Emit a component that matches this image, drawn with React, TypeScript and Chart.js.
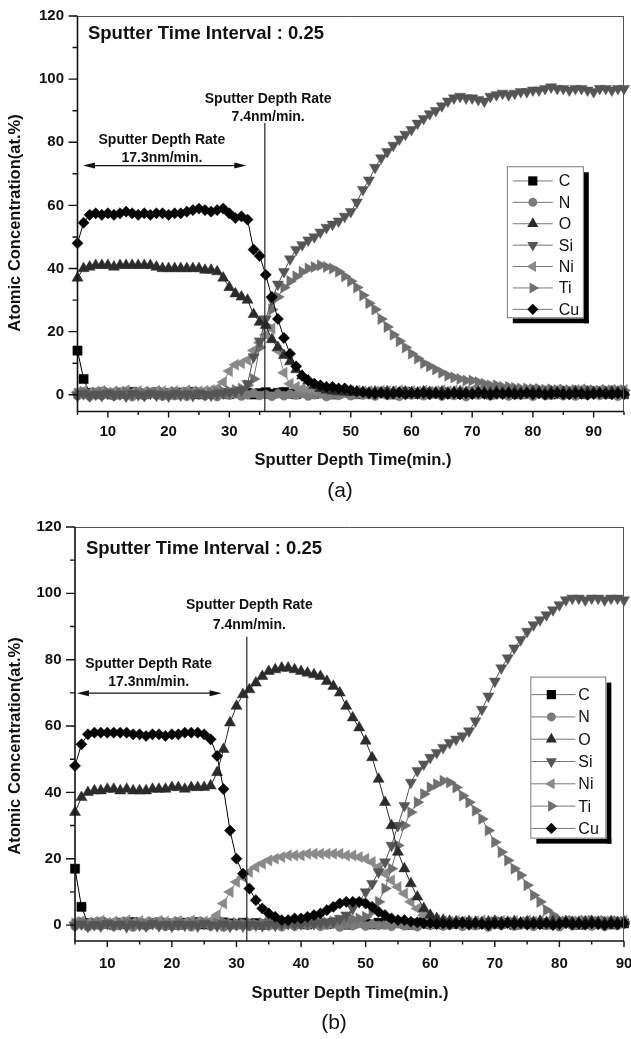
import React, { useEffect, useRef } from 'react';
import { Chart, registerables } from 'chart.js';

Chart.register(...registerables);

// ---------- shared ----------
const ELEMENTS = ['C', 'N', 'O', 'Si', 'Ni', 'Ti', 'Cu'];
const Y_LABEL_TICKS = [0, 20, 40, 60, 80, 100, 120];
const Y_MINOR_TICKS = [10, 30, 50, 70, 90, 110];
const X_LABEL_TICKS = [10, 20, 30, 40, 50, 60, 70, 80, 90];
const X_MINOR_TICKS_A = [5, 15, 25, 35, 45, 55, 65, 75, 85, 95];
const X_MINOR_TICKS_B = [5, 15, 25, 35, 45, 55, 65, 75, 85];
const Y_TITLE = 'Atomic Concentration(at.%)';
const X_TITLE = 'Sputter Depth Time(min.)';
const INTERVAL_TEXT = 'Sputter Time Interval : 0.25';
const RATE_FAST = ['Sputter Depth Rate', '17.3nm/min.'];
const RATE_SLOW = ['Sputter Depth Rate', '7.4nm/min.'];

// ---------- chart (a) ----------
const TIME_A = [5, 6, 7, 8, 9, 10, 11, 12, 13, 14, 15, 16, 17, 18, 19, 20, 21, 22, 23, 24, 25, 26, 27, 28, 29, 30, 31, 32, 33, 34, 35, 36, 37, 38, 39, 40, 41, 42, 43, 44, 45, 46, 47, 48, 49, 50, 51, 52, 53, 54, 55, 56, 57, 58, 59, 60, 61, 62, 63, 64, 65, 66, 67, 68, 69, 70, 71, 72, 73, 74, 75, 76, 77, 78, 79, 80, 81, 82, 83, 84, 85, 86, 87, 88, 89, 90, 91, 92, 93, 94, 95];

const C_A = [14, 5, 0.6, 0.2, 0.8, 0.4, 0.1, 0.7, 0.3, 0.9, 0.5, 0.2, 0.6, 0.8, 0.3, 0.5, 0.1, 0.7, 0.4, 0.9, 0.2, 0.6, 0.3, 0.8, 0.5, 0.2, 0.7, 0.4, 0.6, 0.1,
  0.5, 0.8, 0.3, 0.6, 0.9, 0.4, 0.2, 0.7, 0.5, 0.3, 0.8, 0.6, 0.1, 0.4, 0.9, 0.5, 0.2, 0.7, 0.3, 0.6, 0.8, 0.4, 0.1, 0.5, 0.9, 0.3, 0.6, 0.2, 0.7, 0.4,
  0.8, 0.5, 0.2, 0.6, 0.3, 0.9, 0.4, 0.7, 0.1, 0.5, 0.8, 0.3, 0.6, 0.2, 0.9, 0.4, 0.7, 0.5, 0.1, 0.6, 0.3, 0.8, 0.4, 0.2, 0.7, 0.5, 0.9, 0.3, 0.6, 0.4, 0.2];

const N_A = [-0.3, 0.2, -0.5, 0.1, -0.2, 0.4, -0.4, 0.0, 0.3, -0.6,
  0.1, -0.3, 0.5, -0.1, -0.4, 0.2, -0.2, 0.3, -0.5, 0.0,
  0.4, -0.3, 0.1, -0.6, 0.2, -0.1, 0.3, -0.4, 0.0, 0.5,
  -0.2, 0.1, -0.5, 0.3, -0.3, 0.2, -0.1, 0.4, -0.4, 0.0,
  0.3, -0.6, 0.1, -0.2, 0.5, -0.3, 0.2, -0.1, 0.0, -0.4,
  0.4, -0.2, 0.1, -0.5, 0.3, -0.1, 0.2, -0.3, 0.0, 0.4,
  -0.4, 0.1, -0.2, 0.3, -0.6, 0.2, -0.1, 0.5, -0.3, 0.0,
  0.2, -0.4, 0.3, -0.1, 0.1, -0.5, 0.4, -0.2, 0.0, 0.3,
  -0.3, 0.1, -0.4, 0.2, -0.1, 0.5, -0.2, 0.0, 0.3, -0.5,
  0.1];

const O_A = [37, 40, 40.5, 41, 41, 41, 40.5, 41, 41, 41, 41, 41, 41, 40.5, 40, 40, 40, 40, 40, 40, 40, 39.5, 39.5, 39, 37, 34, 32, 31, 30, 25.5, 23, 22, 17.5, 15, 12.5, 10.5, 8, 6, 4.5, 3, 2, 1.5, 1.2, 1,
  0.9, 0.7, 1.0, 0.8, 0.6, 0.9, 0.7, 1.0, 0.8, 0.5, 0.9, 0.7, 0.6, 1.0, 0.8, 0.7, 0.9, 0.6, 0.8, 1.0,
  0.7, 0.5, 0.9, 0.8, 0.6, 1.0, 0.7, 0.8, 0.9, 0.6, 0.7, 1.0, 0.8, 0.5, 0.9, 0.7, 0.8, 0.6, 1.0, 0.7,
  0.9, 0.8, 0.6, 0.7, 0.9, 0.8, 0.7];

const SI_A = [-0.2, 0.3, -0.4, 0.1, -0.3, 0.4, -0.1, 0.2, -0.5, 0.3, 0, -0.3, 0.4, -0.2, 0.1, -0.4, 0.3, -0.1, 0.2, -0.3, 0.4, 0, -0.2, 0.3, 0.5, 0.8, 1.0, 1.5,
  3.5, 12, 17, 24, 30, 35, 39, 43, 46, 47.5, 49, 50, 51.5, 53, 54, 55, 56.5, 58, 61, 65, 68, 72, 75, 77, 79, 81, 82.5, 84, 86, 87.5,
  89, 90, 91.5, 93, 94, 94.5, 94, 94, 93.5, 93, 94.5, 95, 95.5, 95, 95.5, 96, 96, 96.5, 96.5, 97, 97.5, 97, 97, 96.5, 97, 97, 96.5, 96, 97, 97, 96.5, 97, 97];

const NI_A = [0.8, 1.2, 0.6, 1.0, 1.3, 0.7, 1.1, 0.9, 1.4, 0.8, 1.2, 1.0, 0.7, 1.3, 1.1, 0.9, 1.2, 0.8, 1.4, 1.0, 1.1, 1.3, 1.5,
  2, 4, 7.5, 9.5, 10, 11, 14, 16.5, 19, 21, 14, 7, 3.5,
  2.5, 2, 1.8, 1.5, 1.6, 1.4, 1.5, 1.3, 1.4, 1.2, 1.3, 1.1, 1.2, 1.0, 1.3, 1.1, 1.2, 1.4, 1.0, 1.2, 1.1, 1.3, 1.0, 1.2, 1.4,
  1.1, 1.3, 1.0, 1.2, 1.5, 1.3, 1.1, 1.4, 1.2, 1.6, 1.3, 1.5, 1.2, 1.4, 1.7, 1.3, 1.5, 1.2, 1.6, 1.4, 1.3, 1.5, 1.7, 1.4, 1.2, 1.5, 1.3, 1.6, 1.4, 1.5];

const TI_A = [0.5, 0.9, 0.3, 0.7, 0.4, 0.8, 0.2, 0.6, 0.9, 0.4, 0.7, 0.3, 0.8, 0.5, 0.6, 0.2, 0.9, 0.4, 0.7, 0.5, 0.8, 0.3, 0.6, 0.9, 1.0, 1.2, 1.5, 2.0, 3.0,
  5, 15, 22, 27, 31, 34, 36, 37.5, 39, 40, 40.5, 41, 40.5, 40, 39, 37.5, 36, 34, 31.5, 29, 27, 24, 21.5, 19, 17, 15, 13, 11.5, 10, 9,
  8, 7, 6, 5.5, 5, 4.5, 4.5, 4, 3.5, 3, 3, 2.5, 2.5, 2.2, 2, 2, 1.8, 1.8, 1.6, 1.7, 1.5, 1.6, 1.4, 1.5, 1.3, 1.5, 1.4, 1.3, 1.5, 1.4, 1.3, 1.4];

const CU_A = [48, 54.5, 57, 57.5, 57, 57.5, 57, 57.5, 58, 57.5, 57, 57.5, 57, 57.5, 57.5, 57, 57.5, 57.5, 58, 58.5, 59, 58.5, 58, 58.5, 59, 57.5, 56, 56.5, 55.5,
  46, 44, 38, 31, 24, 18, 13, 9, 6, 4.5, 3.5, 3, 2.5, 2.5, 2, 2, 1.5, 1,
  0.8, 0.5, 0.3, 0.6, 0.2, 0.4, 0.7, 0.1, 0.5, 0.3, 0.6, 0.2, 0.4, 0.0, 0.3, 0.5, 0.1, 0.4, 0.2, 0.6,
  0.3, 0.0, 0.4, 0.2, 0.5, 0.1, 0.3, 0.6, 0.2, 0.4, 0.0, 0.3, 0.5, 0.2, 0.1, 0.4, 0.3, 0.0, 0.2, 0.5,
  0.3, 0.1, 0.4, 0.2];

// ---------- chart (b) ----------
const TIME_B = [5, 6, 7, 8, 9, 10, 11, 12, 13, 14, 15, 16, 17, 18, 19, 20, 21, 22, 23, 24, 25, 26, 27, 28, 29, 30, 31, 32, 33, 34, 35, 36, 37, 38, 39, 40, 41, 42, 43, 44, 45, 46, 47, 48, 49, 50, 51, 52, 53, 54, 55, 56, 57, 58, 59, 60, 61, 62, 63, 64, 65, 66, 67, 68, 69, 70, 71, 72, 73, 74, 75, 76, 77, 78, 79, 80, 81, 82, 83, 84, 85, 86, 87, 88, 89, 90];

const C_B = [17, 5.5, 0.6, 0.2, 0.8, 0.4, 0.1, 0.7, 0.3, 0.9, 0.5, 0.2,
  0.6, 0.8, 0.3, 0.5, 0.1, 0.7, 0.4, 0.9, 0.2, 0.6,
  0.3, 0.8, 0.5, 0.2, 0.7, 0.4, 0.6, 0.1, 0.5, 0.8,
  0.3, 0.6, 0.9, 0.4, 0.2, 0.7, 0.5, 0.3, 0.8, 0.6,
  0.1, 0.4, 0.9, 0.5, 0.2, 0.7, 0.3, 0.6, 0.8, 0.4,
  0.1, 0.5, 0.9, 0.3, 0.6, 0.2, 0.7, 0.4, 0.8, 0.5,
  0.2, 0.6, 0.3, 0.9, 0.4, 0.7, 0.1, 0.5, 0.8, 0.3,
  0.6, 0.2, 0.9, 0.4, 0.7, 0.5, 0.1, 0.6, 0.3, 0.8,
  0.4, 0.2, 0.7, 0.5];

const N_B = [-0.3, 0.2, -0.5, 0.1, -0.2, 0.4, -0.4, 0.0, 0.3, -0.6,
  0.1, -0.3, 0.5, -0.1, -0.4, 0.2, -0.2, 0.3, -0.5, 0.0,
  0.4, -0.3, 0.1, -0.6, 0.2, -0.1, 0.3, -0.4, 0.0, 0.5,
  -0.2, 0.1, -0.5, 0.3, -0.3, 0.2, -0.1, 0.4, -0.4, 0.0,
  0.3, -0.6, 0.1, -0.2, 0.5, -0.3, 0.2, -0.1, 0.0, -0.4,
  0.4, -0.2, 0.1, -0.5, 0.3, -0.1, 0.2, -0.3, 0.0, 0.4,
  -0.4, 0.1, -0.2, 0.3, -0.6, 0.2, -0.1, 0.5, -0.3, 0.0,
  0.2, -0.4, 0.3, -0.1, 0.1, -0.5, 0.4, -0.2, 0.0, 0.3,
  -0.3, 0.1, -0.4, 0.2, -0.1, 0.5];

const O_B = [34, 38.5, 40, 40.5, 40.5, 41, 41, 40.5, 41, 40.5,
  40.5, 40.5, 41, 41, 41, 41.5, 41.5, 41, 41.5, 41.5,
  41.5, 42, 46, 53, 61, 66, 69.5, 71, 73, 75,
  76.5, 77, 77.5, 77.5, 77, 76.5, 76, 75.5, 75, 73.5,
  72, 70, 66, 62.5, 59.5, 55.5, 50.5, 44, 37, 30,
  22, 17, 12.5, 8.5, 5, 3, 2, 1.5, 1.2,
  1.0, 0.8, 1.1, 0.9, 0.7, 1.0, 1.2, 0.8, 0.9, 1.1,
  0.7, 1.0, 0.9, 1.2, 0.8, 1.0, 0.7, 1.1, 0.9, 0.8,
  1.0, 1.2, 0.9, 0.7, 1.1, 0.8, 1.0];

const SI_B = [-0.2, 0.3, -0.4, 0.1, -0.3, 0.4, -0.1, 0.2, -0.5, 0.3,
  0, -0.3, 0.4, -0.2, 0.1, -0.4, 0.3, -0.1, 0.2, -0.3,
  0.4, 0, -0.2, 0.3, -0.4, 0.1, -0.3, 0.2, 0.0, -0.2,
  0.3, -0.1, 0.2, 0.4, 0.1, 0.3, 0.5, 0.4, 0.6, 0.8,
  1, 2, 3, 5, 7, 10, 12.5, 16, 19, 24,
  30, 36, 43, 46.5, 48.5, 50.5, 52, 53.5, 55, 56,
  57, 58.5, 61.5, 65, 69, 73.5, 77.5, 80.5, 83.5, 86,
  88.5, 90.5, 92, 93.5, 95, 96.5, 98, 98.5, 98.5, 98,
  98.5, 98.5, 98, 98.5, 98.5, 98];

const NI_B = [0.8, 1.2, 0.6, 1.0, 1.3, 0.7, 1.1, 0.9, 1.4, 0.8,
  1.2, 1.0, 0.7, 1.3, 1.1, 0.9, 1.2, 0.8, 1.4, 1.0, 1.1, 1.3,
  3, 6.5, 10, 13, 14.5, 16, 17.5, 18.5, 19.5, 20,
  20.5, 21, 21, 21, 21.5, 21.5, 21.5, 21.5, 21.5, 21.5,
  21, 21, 20.5, 20, 19, 17.5, 15.5, 13.5, 11.5, 9.5,
  7, 5, 3, 2, 1.5,
  1.2, 1.0, 1.3, 1.1, 0.9, 1.2, 1.4, 1.0, 1.1, 1.3,
  0.9, 1.2, 1.0, 1.4, 1.1, 1.3, 0.9, 1.2, 1.0, 1.3,
  1.1, 1.4, 1.2, 1.0, 1.3, 1.1, 1.2, 0.9, 1.3];

const TI_B = [0.5, 0.9, 0.3, 0.7, 0.4, 0.8, 0.2, 0.6, 0.9, 0.4,
  0.7, 0.3, 0.8, 0.5, 0.6, 0.2, 0.9, 0.4, 0.7, 0.5,
  0.8, 0.3, 0.6, 0.9, 0.4, 0.7, 0.5, 0.8, 0.3, 0.6,
  0.9, 0.4, 0.7, 0.5, 0.8, 0.6, 0.9, 0.7, 1.0, 0.8,
  1.1, 1.3, 1.5, 1.8, 2.0,
  2.5, 4, 7, 11, 17, 24, 30, 34, 37, 39.5,
  41.5, 42.5, 43.5, 43, 41.5, 39, 37, 34.5, 32, 28.5,
  25, 22, 19.5, 17, 15, 12, 9, 7, 4.5, 3,
  1.5, 1.0, 1.2, 0.9, 1.1, 1.3, 1.0, 1.2, 0.9, 1.1,
  1.0];

const CU_B = [48, 54.5, 57.5, 58, 58, 58, 58, 58, 58, 57.5,
  57.5, 57, 57.5, 57.5, 57, 57.5, 57.5, 58, 58, 58,
  57.5, 56, 51, 41, 28.5, 20, 15.5, 11, 7.5, 5,
  3.5, 2.5, 1.5, 1.5, 2, 2, 2.5, 3, 3.5, 4.5,
  5.5, 6.5, 7, 7, 7, 6.5, 5.5, 4, 3, 2,
  1.5, 1.5, 1, 0.8, 0.5, 0.6, 0.3, 0.5, 0.2, 0.4,
  0.6, 0.1, 0.5, 0.3, 0.0, 0.4, 0.2, 0.6, 0.3, 0.5,
  0.1, 0.4, 0.2, 0.5, 0.0, 0.3, 0.6, 0.2, 0.4, 0.1,
  0.5, 0.3, 0.0, 0.4, 0.2, 0.5];

// ---------- styles ----------
const FONT = '"Liberation Sans", Arial, sans-serif';
const STYLE: Record<string, any> = {
  C: { color: '#000000', shape: 'rect', radius: 6.5, rotation: 0, order: 6 },
  N: { color: '#7a7a7a', shape: 'circle', radius: 4.5, rotation: 0, order: 5 },
  O: { color: '#2b2b2b', shape: 'triangle', radius: 6.4, rotation: 0, order: 1 },
  Si: { color: '#555555', shape: 'triangle', radius: 6.4, rotation: 180, order: 2 },
  Ni: { color: '#8a8a8a', shape: 'triangle', radius: 6.4, rotation: -90, order: 4 },
  Ti: { color: '#6f6f6f', shape: 'triangle', radius: 6.4, rotation: 90, order: 3 },
  Cu: { color: '#050505', shape: 'rectRot', radius: 5.6, rotation: 0, order: 0 },
};

const PANEL_A = {
  tag: '(a)',
  time: TIME_A,
  series: { C: C_A, N: N_A, O: O_A, Si: SI_A, Ni: NI_A, Ti: TI_A, Cu: CU_A },
  xMin: 5, xMax: 95, yMin: -5.3, yMax: 120,
  xMinor: X_MINOR_TICKS_A,
  canvasH: 520,
  padTop: 16, axisW: 77.5, axisH: 108.5, xLabelPad: 11, yLabelPad: 13.5,
  interval: { x: 6.72, y: 114.3 },
  fast: { x: 18.9, y: [80.7, 75] },
  arrow: { x1: 5.9, x2: 32.8, y: 72.6 },
  slow: { x: 36.4, y: [93.7, 88] },
  vline: { x: 35.85, y: 86.1 },
  legend: { x: 75.7, y: 72.4, w: 77, h: 152, first: 14.7, row: 21.4, lineL: 6, lineR: 46, mark: 26, text: 52 },
  yTitle: { x: 15, y: 223 },
  xTitle: { x: 353, y: 460 },
  tagPos: { x: 340, y: 491 },
};

const PANEL_B = {
  tag: '(b)',
  time: TIME_B,
  series: { C: C_B, N: N_B, O: O_B, Si: SI_B, Ni: NI_B, Ti: TI_B, Cu: CU_B },
  xMin: 5, xMax: 90, yMin: -4.8, yMax: 120,
  xMinor: X_MINOR_TICKS_B,
  canvasH: 519,
  padTop: 6, axisW: 75, axisH: 98, xLabelPad: 14, yLabelPad: 13.5,
  interval: { x: 6.7, y: 113.4 },
  fast: { x: 16.4, y: [78.8, 73.1] },
  arrow: { x1: 5.3, x2: 27.7, y: 69.9 },
  slow: { x: 32, y: [96.5, 90.5] },
  vline: { x: 31.6, y: 86.9 },
  legend: { x: 75.5, y: 74.9, w: 76, h: 162, first: 18, row: 22.3, lineL: 1, lineR: 45, mark: 21, text: 48 },
  yTitle: { x: 15, y: 226 },
  xTitle: { x: 350, y: 473 },
  tagPos: { x: 334, y: 503 },
};

function markerPath(ctx: CanvasRenderingContext2D, shape: string, x: number, y: number, r: number, rotDeg: number) {
  ctx.beginPath();
  if (shape === 'circle') {
    ctx.arc(x, y, r, 0, Math.PI * 2);
  } else if (shape === 'rect') {
    const s = r * Math.SQRT1_2;
    ctx.rect(x - s, y - s, 2 * s, 2 * s);
  } else if (shape === 'rectRot') {
    ctx.moveTo(x, y - r); ctx.lineTo(x + r, y); ctx.lineTo(x, y + r); ctx.lineTo(x - r, y); ctx.closePath();
  } else {
    let a = (rotDeg * Math.PI) / 180;
    for (let k = 0; k < 3; k++) {
      const px = x + Math.sin(a) * r, py = y - Math.cos(a) * r;
      if (k === 0) ctx.moveTo(px, py); else ctx.lineTo(px, py);
      a += (2 * Math.PI) / 3;
    }
    ctx.closePath();
  }
}

function makeDecor(p: any) {
  return {
    id: 'decor',
    afterDraw(chart: any) {
      const { ctx, chartArea: a } = chart;
      const xs = chart.scales.x, ys = chart.scales.y;
      const X = (v: number) => xs.getPixelForValue(v);
      const Y = (v: number) => ys.getPixelForValue(v);
      ctx.save();
      // frame
      ctx.strokeStyle = '#555';
      ctx.lineWidth = 1;
      ctx.beginPath();
      ctx.moveTo(a.left, a.top + 0.5); ctx.lineTo(a.right, a.top + 0.5);
      ctx.moveTo(a.right - 0.5, a.top); ctx.lineTo(a.right - 0.5, a.bottom);
      ctx.stroke();
      ctx.strokeStyle = '#111';
      ctx.lineWidth = 1.6;
      ctx.beginPath();
      ctx.moveTo(a.left, a.top); ctx.lineTo(a.left, a.bottom);
      ctx.lineTo(a.right, a.bottom);
      ctx.stroke();
      // tick marks
      ctx.lineWidth = 1.4;
      ctx.beginPath();
      X_LABEL_TICKS.forEach((v) => { if (v <= p.xMax) { const px = X(v); ctx.moveTo(px, a.bottom); ctx.lineTo(px, a.bottom + 6); } });
      p.xMinor.forEach((v: number) => { const px = X(v); ctx.moveTo(px, a.bottom); ctx.lineTo(px, a.bottom + 3.5); });
      Y_LABEL_TICKS.forEach((v) => { const py = Y(v); ctx.moveTo(a.left, py); ctx.lineTo(a.left - 9, py); });
      Y_MINOR_TICKS.forEach((v) => { const py = Y(v); ctx.moveTo(a.left, py); ctx.lineTo(a.left - 5, py); });
      ctx.stroke();

      // annotations
      ctx.fillStyle = '#111';
      ctx.textBaseline = 'middle';
      ctx.font = `bold 18.5px ${FONT}`;
      ctx.textAlign = 'left';
      ctx.fillText(INTERVAL_TEXT, X(p.interval.x), Y(p.interval.y));
      ctx.font = `bold 14px ${FONT}`;
      ctx.textAlign = 'center';
      RATE_FAST.forEach((t, i) => ctx.fillText(t, X(p.fast.x), Y(p.fast.y[i])));
      RATE_SLOW.forEach((t, i) => ctx.fillText(t, X(p.slow.x), Y(p.slow.y[i])));
      // arrow
      const ax1 = X(p.arrow.x1), ax2 = X(p.arrow.x2), ay = Y(p.arrow.y);
      ctx.strokeStyle = '#111';
      ctx.lineWidth = 1.2;
      ctx.beginPath(); ctx.moveTo(ax1 + 4, ay); ctx.lineTo(ax2 - 4, ay); ctx.stroke();
      ctx.beginPath();
      ctx.moveTo(ax1, ay); ctx.lineTo(ax1 + 12, ay - 3); ctx.lineTo(ax1 + 12, ay + 3); ctx.closePath();
      ctx.moveTo(ax2, ay); ctx.lineTo(ax2 - 12, ay - 3); ctx.lineTo(ax2 - 12, ay + 3); ctx.closePath();
      ctx.fill();
      // vertical line
      ctx.lineWidth = 1.2;
      ctx.strokeStyle = '#222';
      ctx.beginPath(); ctx.moveTo(X(p.vline.x), Y(p.vline.y)); ctx.lineTo(X(p.vline.x), a.bottom); ctx.stroke();

      // legend
      const L = p.legend;
      const lx = X(L.x), ly = Y(L.y);
      ctx.fillStyle = '#000';
      ctx.fillRect(lx + L.w, ly + 6, 5, L.h - 1);
      ctx.fillRect(lx + 6, ly + L.h, L.w - 1, 5);
      ctx.fillStyle = '#fff';
      ctx.fillRect(lx, ly, L.w, L.h);
      ctx.strokeStyle = '#777';
      ctx.lineWidth = 1;
      ctx.strokeRect(lx + 0.5, ly + 0.5, L.w - 1, L.h - 1);
      ctx.font = `16px ${FONT}`;
      ctx.textAlign = 'left';
      ctx.textBaseline = 'middle';
      ELEMENTS.forEach((el, i) => {
        const st = STYLE[el];
        const cy = ly + L.first + i * L.row;
        ctx.strokeStyle = '#777';
        ctx.lineWidth = 1;
        ctx.beginPath(); ctx.moveTo(lx + L.lineL, cy); ctx.lineTo(lx + L.lineR, cy); ctx.stroke();
        ctx.fillStyle = st.color;
        markerPath(ctx, st.shape, lx + L.mark, cy, st.radius, st.rotation);
        ctx.fill();
        ctx.fillStyle = '#111';
        ctx.fillText(el, lx + L.text, cy + 1);
      });

      // titles
      ctx.fillStyle = '#111';
      ctx.font = `bold 16.5px ${FONT}`;
      ctx.textAlign = 'center';
      ctx.textBaseline = 'middle';
      ctx.save();
      ctx.translate(p.yTitle.x, p.yTitle.y);
      ctx.rotate(-Math.PI / 2);
      ctx.fillText(Y_TITLE, 0, 0);
      ctx.restore();
      ctx.fillText(X_TITLE, p.xTitle.x, p.xTitle.y);
      ctx.font = `21px ${FONT}`;
      ctx.fillText(p.tag, p.tagPos.x, p.tagPos.y);
      ctx.restore();
    },
  };
}

function buildConfig(p: any): any {
  const datasets = ELEMENTS.map((el) => {
    const st = STYLE[el];
    const vals: number[] = p.series[el];
    return {
      label: el,
      data: p.time.map((t: number, i: number) => ({ x: t, y: vals[i] })),
      borderColor: st.color,
      borderWidth: 1,
      pointStyle: st.shape,
      pointRadius: st.radius,
      pointRotation: st.rotation,
      pointBackgroundColor: st.color,
      pointBorderColor: st.color,
      pointBorderWidth: 0.5,
      pointHoverRadius: st.radius,
      order: st.order,
      clip: false,
      tension: 0,
      fill: false,
    };
  });
  const tickFont = { family: FONT, weight: 'bold', size: 15 };
  return {
    type: 'line',
    data: { datasets },
    options: {
      responsive: false,
      animation: false,
      events: [],
      layout: { padding: { top: p.padTop, right: 5, left: 0, bottom: 0 } },
      plugins: { legend: { display: false }, tooltip: { enabled: false }, title: { display: false } },
      scales: {
        x: {
          type: 'linear',
          min: p.xMin,
          max: p.xMax,
          grid: { display: false, drawTicks: false },
          border: { display: false },
          ticks: { font: tickFont, color: '#111', padding: p.xLabelPad, maxRotation: 0, autoSkip: false },
          afterBuildTicks: (s: any) => { s.ticks = X_LABEL_TICKS.filter((v) => v <= p.xMax).map((v) => ({ value: v })); },
          afterFit: (s: any) => { s.height = p.axisH; s.paddingLeft = 0; s.paddingRight = 0; },
        },
        y: {
          type: 'linear',
          min: p.yMin,
          max: p.yMax,
          grid: { display: false, drawTicks: false },
          border: { display: false },
          ticks: { font: tickFont, color: '#111', padding: p.yLabelPad },
          afterBuildTicks: (s: any) => { s.ticks = Y_LABEL_TICKS.map((v) => ({ value: v })); },
          afterFit: (s: any) => { s.width = p.axisW; s.paddingTop = 0; s.paddingBottom = 0; },
        },
      },
    },
    plugins: [makeDecor(p)],
  };
}

function Panel({ panel, top }: { panel: any; top: number }) {
  const ref = useRef<HTMLCanvasElement>(null);
  useEffect(() => {
    const chart = new Chart(ref.current as HTMLCanvasElement, buildConfig(panel));
    return () => chart.destroy();
  }, [panel]);
  return (
    <div style={{ position: 'absolute', left: 0, top, width: 631, height: panel.canvasH }}>
      <canvas ref={ref} width={631} height={panel.canvasH} style={{ width: 631, height: panel.canvasH, display: 'block' }} />
    </div>
  );
}

export default function App() {
  return (
    <div style={{ position: 'absolute', left: 0, top: 0, width: 631, height: 1039, background: '#fff', overflow: 'hidden' }}>
      <Panel panel={PANEL_A} top={0} />
      <Panel panel={PANEL_B} top={520} />
    </div>
  );
}
